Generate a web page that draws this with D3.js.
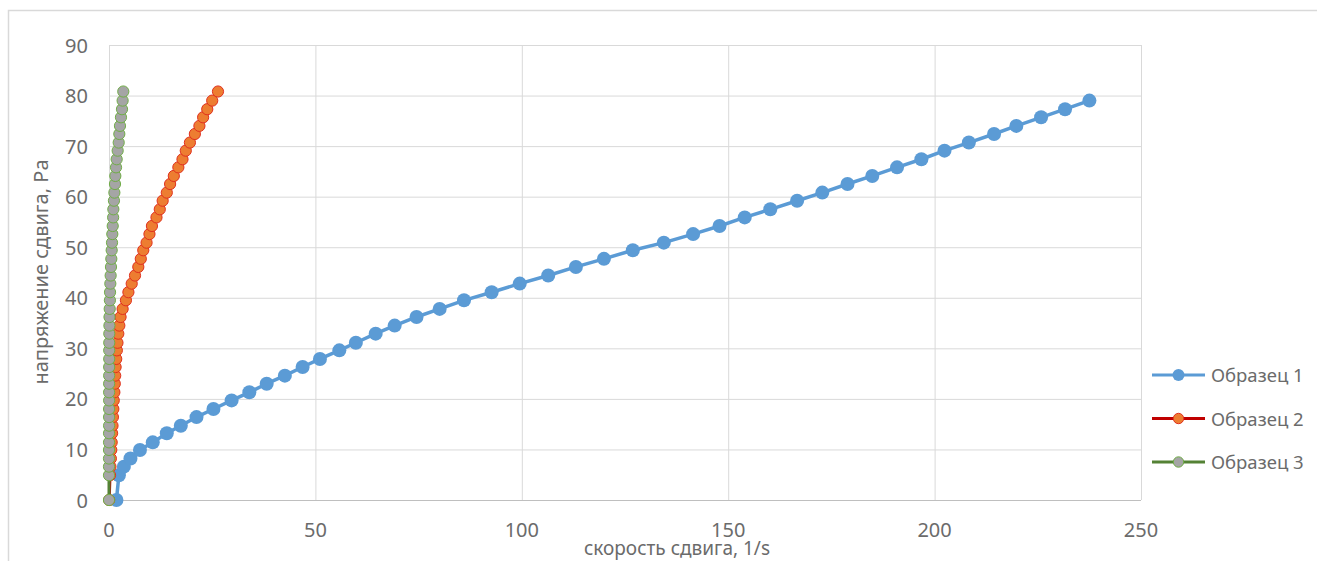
<!DOCTYPE html>
<html>
<head>
<meta charset="utf-8">
<script src="https://cdn.jsdelivr.net/npm/d3@7"></script>
<style>
  body { margin: 0; background: #fff; }
  text { font-family: "Noto Sans", "Open Sans", sans-serif; fill: #6b6b6b; }
</style>
</head>
<body>
<svg id="chart" width="1317" height="561"></svg>
<script>
// shear stress, Pa (same stress steps for all samples)
const stress = [0, 4.9, 6.6, 8.2, 9.9, 11.4, 13.2, 14.7, 16.4, 18.0, 19.7, 21.3, 23.0, 24.6, 26.3, 27.9,
  29.6, 31.1, 32.9, 34.5, 36.2, 37.8, 39.5, 41.1, 42.8, 44.4, 46.1, 47.7, 49.4, 50.9, 52.6, 54.2,
  55.9, 57.5, 59.2, 60.8, 62.5, 64.1, 65.8, 67.4, 69.1, 70.7, 72.4, 74.0, 75.7, 77.3, 79.0, 80.8];

// shear rate, 1/s
const rate1 = [1.8, 2.4, 3.6, 5.2, 7.5, 10.6, 14.0, 17.4, 21.2, 25.3, 29.7, 34.0, 38.2, 42.6, 46.9, 51.1,
  55.8, 59.8, 64.6, 69.2, 74.5, 80.1, 86.0, 92.7, 99.5, 106.4, 113.1, 119.9, 126.9, 134.4, 141.5, 147.9,
  154.0, 160.2, 166.7, 172.8, 178.9, 184.9, 190.9, 196.8, 202.4, 208.3, 214.4, 219.8, 225.8, 231.6, 237.5];
const rate2 = [0.05, 0.25, 0.35, 0.45, 0.55, 0.65, 0.75, 0.85, 0.95, 1.05, 1.15, 1.3, 1.4, 1.5, 1.6, 1.75,
  1.9, 2.05, 2.25, 2.5, 2.8, 3.3, 4.1, 4.7, 5.5, 6.3, 7.1, 7.7, 8.3, 9.1, 9.8, 10.4,
  11.5, 12.3, 13.0, 14.0, 14.8, 15.7, 16.8, 17.8, 18.6, 19.6, 20.8, 21.9, 22.8, 23.8, 25.0, 26.4];
const rate3 = [0, 0, 0, 0, 0, 0.01, 0.01, 0.02, 0.02, 0.02, 0.03, 0.03, 0.03, 0.04, 0.04, 0.05,
  0.05, 0.06, 0.07, 0.1, 0.12, 0.17, 0.22, 0.25, 0.32, 0.4, 0.48, 0.56, 0.65, 0.73, 0.8, 0.9,
  1.0, 1.05, 1.2, 1.3, 1.45, 1.53, 1.7, 1.86, 2.1, 2.35, 2.5, 2.66, 2.9, 3.15, 3.3, 3.46];

const seriesNames = ["Образец 1", "Образец 2", "Образец 3"];
const xTicks = [0, 50, 100, 150, 200, 250];
const yTicks = [0, 10, 20, 30, 40, 50, 60, 70, 80, 90];

const styles = [
  { line: "#5b9bd5", fill: "#5b9bd5", stroke: "#5b9bd5", r: 7, legR: 6, w: 3.5 },
  { line: "#c00000", fill: "#ed7d31", stroke: "#e0301e", r: 5.6, legR: 5.2, w: 3 },
  { line: "#548235", fill: "#a5a5a5", stroke: "#70ad47", r: 5.6, legR: 5.2, w: 3 }
];

const series = [rate1, rate2, rate3].map(function (rates) {
  return rates.map(function (r, j) { return { x: r, y: stress[j] }; });
});

const svg = d3.select("#chart");

// outer frame
svg.append("path")
  .attr("d", "M8.5,561 V10.5 H1317")
  .attr("fill", "none")
  .attr("stroke", "#d9d9d9")
  .attr("stroke-width", 1.5);

const x = d3.scaleLinear().domain([0, 250]).range([109, 1141]);
const y = d3.scaleLinear().domain([0, 90]).range([500, 45]);

// grid
svg.append("g")
  .attr("transform", "translate(0,500)")
  .call(d3.axisBottom(x).tickValues(xTicks).tickSize(-455).tickFormat(""))
  .call(g => g.select(".domain").remove())
  .call(g => g.selectAll("line").attr("stroke", "#d9d9d9"));
svg.append("g")
  .attr("transform", "translate(109,0)")
  .call(d3.axisLeft(y).tickValues(yTicks).tickSize(-1032).tickFormat(""))
  .call(g => g.select(".domain").remove())
  .call(g => g.selectAll("line").attr("stroke", "#d9d9d9"));

svg.append("line")
  .attr("x1", 109).attr("x2", 1141).attr("y1", 500.5).attr("y2", 500.5)
  .attr("stroke", "#bfbfbf");

// tick labels
svg.append("g").selectAll("text").data(yTicks).join("text")
  .attr("x", 88).attr("y", d => y(d) + 7.5)
  .attr("text-anchor", "end")
  .style("font-size", "20px")
  .text(d => d);
svg.append("g").selectAll("text").data(xTicks).join("text")
  .attr("x", d => x(d)).attr("y", 537)
  .attr("text-anchor", "middle")
  .style("font-size", "20px")
  .text(d => d);

// axis titles
svg.append("text")
  .attr("x", 677).attr("y", 555)
  .attr("text-anchor", "middle")
  .style("font-size", "19px")
  .text("скорость сдвига, 1/s");
svg.append("text")
  .attr("transform", "translate(48,272) rotate(-90)")
  .attr("text-anchor", "middle")
  .style("font-size", "20px")
  .text("напряжение сдвига, Pa");

const line = d3.line().x(d => x(d.x)).y(d => y(d.y));

series.forEach(function (data, i) {
  const s = styles[i];
  const g = svg.append("g");
  g.append("path")
    .datum(data)
    .attr("d", line)
    .attr("fill", "none")
    .attr("stroke", s.line)
    .attr("stroke-width", s.w)
    .attr("stroke-linejoin", "round");
  g.selectAll("circle").data(data).join("circle")
    .attr("cx", d => x(d.x))
    .attr("cy", d => y(d.y))
    .attr("r", s.r)
    .attr("fill", s.fill)
    .attr("stroke", s.stroke)
    .attr("stroke-width", i === 0 ? 0 : 1);
});

// legend
const legend = svg.append("g").selectAll("g").data(seriesNames).join("g")
  .attr("transform", (d, i) => "translate(1152," + (375 + i * 43.5) + ")");
legend.append("line")
  .attr("x1", 0).attr("x2", 53)
  .attr("stroke", (d, i) => styles[i].line)
  .attr("stroke-width", 3);
legend.append("circle")
  .attr("cx", 26.5)
  .attr("r", (d, i) => styles[i].legR)
  .attr("fill", (d, i) => styles[i].fill)
  .attr("stroke", (d, i) => styles[i].stroke)
  .attr("stroke-width", (d, i) => i === 0 ? 0 : 1);
legend.append("text")
  .attr("x", 59).attr("y", 7)
  .style("font-size", "18.5px")
  .text(d => d);
</script>
</body>
</html>
